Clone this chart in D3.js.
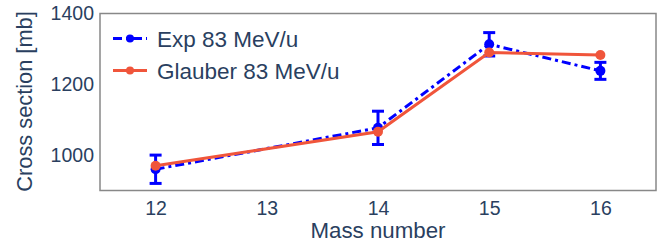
<!doctype html>
<html lang="en">
<head>
    <meta charset="UTF-8">
    <script src="https://cdnjs.cloudflare.com/ajax/libs/d3/7.0.0/d3.min.js"></script>
    <title>Cross section</title>
    <style>
        body { margin: 0; background: #fff; }
        text { font-family: "Liberation Sans", Arial, sans-serif; fill: #2a3f5f; }
    </style>
</head>
<body>
<div id="viz_area"></div>

<script>
    const massNumbers = [12, 13, 14, 15, 16]
    const expMass = [12, 14, 15, 16]
    const expValues = [960, 1077, 1313, 1238]
    const expErrors = [40, 47, 33, 24]
    const glauberMass = [12, 14, 15, 16]
    const glauberValues = [970, 1066, 1290, 1283]
    const yTicks = [1000, 1200, 1400]

    const width = 660, height = 242
    const margin = {top: 13.5, right: 4, bottom: 51.5, left: 100}

    const svg = d3.select('#viz_area')
        .append("svg")
        .attr("width", width)
        .attr("height", height)

    const x = d3.scaleLinear().domain([11.5, 16.5]).range([margin.left, width - margin.right])
    const y = d3.scaleLinear().domain([900, 1400]).range([height - margin.bottom, margin.top])

    // frame
    svg.append("rect")
        .attr("x", margin.left).attr("y", margin.top)
        .attr("width", width - margin.left - margin.right)
        .attr("height", height - margin.top - margin.bottom)
        .attr("fill", "none").attr("stroke", "#888").attr("stroke-width", 1.5)

    // axes, no tick marks
    const xAxis = svg.append("g")
        .attr("transform", `translate(0,${height - margin.bottom})`)
        .call(d3.axisBottom(x).tickValues(massNumbers).tickFormat(d3.format("d")).tickSize(0).tickPadding(11))
    const yAxis = svg.append("g")
        .attr("transform", `translate(${margin.left},0)`)
        .call(d3.axisLeft(y).tickValues(yTicks).tickFormat(d3.format("d")).tickSize(0).tickPadding(6))
    ;[xAxis, yAxis].forEach(a => {
        a.select(".domain").remove()
        a.selectAll("text").style("font-size", "19.5px").attr("fill", "#2a3f5f")
    })

    svg.append("text")
        .attr("x", x(14)).attr("y", 238)
        .attr("text-anchor", "middle")
        .style("font-size", "22.3px")
        .text("Mass number")
    svg.append("text")
        .attr("transform", `translate(31.5,101.5) rotate(-90)`)
        .attr("text-anchor", "middle")
        .style("font-size", "21.8px")
        .text("Cross section [mb]")

    const blue = "#0000ff", red = "#f0553b"
    const line = d3.line().x(d => x(d[0])).y(d => y(d[1]))

    // Glauber
    const gData = glauberMass.map((m, i) => [m, glauberValues[i]])
    // Exp
    const eData = expMass.map((m, i) => [m, expValues[i], expErrors[i]])

    svg.append("path").datum(eData).attr("d", line)
        .attr("fill", "none").attr("stroke", blue).attr("stroke-width", 3)
        .attr("stroke-dasharray", "9,4,3,4")
    const err = svg.append("g").selectAll("g").data(eData).join("g")
        .attr("stroke", blue).attr("stroke-width", 3)
    err.append("line")
        .attr("x1", d => x(d[0])).attr("x2", d => x(d[0]))
        .attr("y1", d => y(d[1] - d[2])).attr("y2", d => y(d[1] + d[2]))
    err.append("line")
        .attr("x1", d => x(d[0]) - 6).attr("x2", d => x(d[0]) + 6)
        .attr("y1", d => y(d[1] - d[2])).attr("y2", d => y(d[1] - d[2]))
    err.append("line")
        .attr("x1", d => x(d[0]) - 6).attr("x2", d => x(d[0]) + 6)
        .attr("y1", d => y(d[1] + d[2])).attr("y2", d => y(d[1] + d[2]))
    svg.append("g").selectAll("circle").data(eData).join("circle")
        .attr("cx", d => x(d[0])).attr("cy", d => y(d[1])).attr("r", 5).attr("fill", blue)

    svg.append("path").datum(gData).attr("d", line)
        .attr("fill", "none").attr("stroke", red).attr("stroke-width", 3)
    svg.append("g").selectAll("circle").data(gData).join("circle")
        .attr("cx", d => x(d[0])).attr("cy", d => y(d[1])).attr("r", 5).attr("fill", red)

    // legend
    const legend = [
        {name: "Exp 83 MeV/u", color: blue, dash: "9,4,3,4", y: 38.5},
        {name: "Glauber 83 MeV/u", color: red, dash: null, y: 70.5}
    ]
    legend.forEach(l => {
        svg.append("line").attr("x1", 113).attr("x2", 147).attr("y1", l.y).attr("y2", l.y)
            .attr("stroke", l.color).attr("stroke-width", 3)
            .attr("stroke-dasharray", l.dash)
        svg.append("circle").attr("cx", 130).attr("cy", l.y).attr("r", 4).attr("fill", l.color)
        svg.append("text").attr("x", 157).attr("y", l.y + 8)
            .style("font-size", "22.5px").text(l.name)
    })
</script>
</body>
</html>
